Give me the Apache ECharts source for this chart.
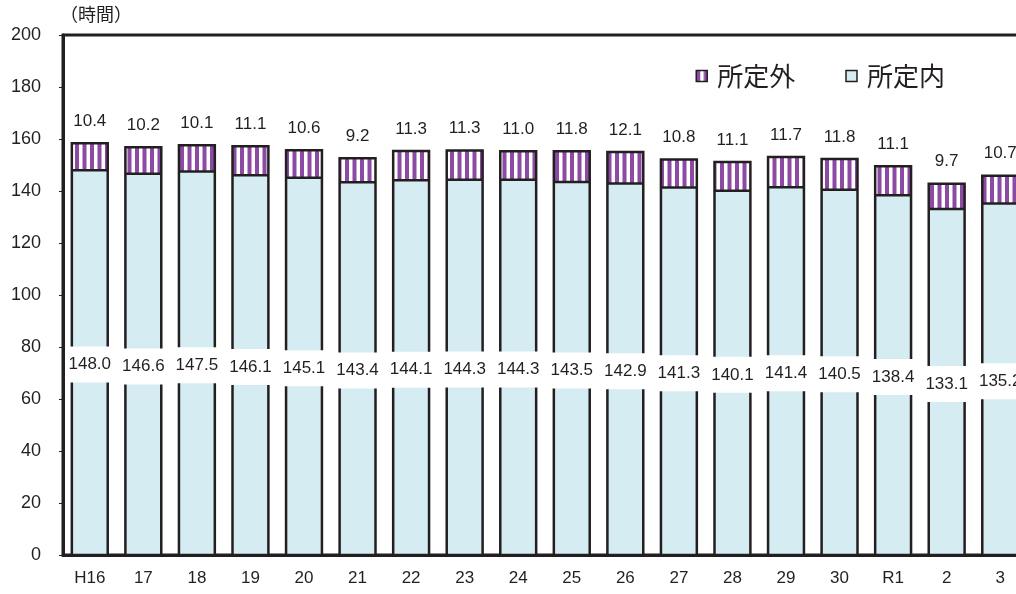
<!DOCTYPE html>
<html>
<head>
<meta charset="utf-8">
<script src="https://cdn.jsdelivr.net/npm/echarts@6/dist/echarts.min.js"></script>
<style>
  html, body { margin: 0; padding: 0; background: #fff; }
  #chart { width: 1016px; height: 594px; }
</style>
</head>
<body>
<div id="chart"></div>
<script>
// 年度別 月間労働時間（所定内・所定外）
const categories = ['H16', '17', '18', '19', '20', '21', '22', '23', '24', '25', '26', '27', '28', '29', '30', 'R1', '2', '3'];
const scheduledHours = [148.0, 146.6, 147.5, 146.1, 145.1, 143.4, 144.1, 144.3, 144.3, 143.5, 142.9, 141.3, 140.1, 141.4, 140.5, 138.4, 133.1, 135.2];
const overtimeHours = [10.4, 10.2, 10.1, 11.1, 10.6, 9.2, 11.3, 11.3, 11.0, 11.8, 12.1, 10.8, 11.1, 11.7, 11.8, 11.1, 9.7, 10.7];
const yTicks = [0, 20, 40, 60, 80, 100, 120, 140, 160, 180, 200];

const LINE = '#231f20';
const TEXT = '#231f20';
const NUM_FONT = '"Liberation Sans", Arial, sans-serif';
const JP_FONT = '"Noto Sans CJK JP", sans-serif';
const BAR_RATIO = 0.67;

// vertical purple/white stripes for the overtime segment
const stripe = document.createElement('canvas');
stripe.width = 15;
stripe.height = 4;
const sctx = stripe.getContext('2d');
sctx.fillStyle = '#ffffff';
sctx.fillRect(0, 0, 15, 4);
sctx.fillStyle = '#8d4aa5';
sctx.fillRect(0, 0, 4, 4);
sctx.fillRect(7.5, 0, 4, 4);

// per-year rows for the outline/label layer: [index, scheduled, total, overtime]
const outlineRows = categories.map((c, i) => [i, scheduledHours[i], scheduledHours[i] + overtimeHours[i], overtimeHours[i]]);

function renderOutline(params, api) {
  const i = api.value(0);
  const base = api.coord([i, 0]);
  const mid = api.coord([i, api.value(1)]);
  const top = api.coord([i, api.value(2)]);
  const w = api.size([1, 0])[0] * BAR_RATIO;
  const left = base[0] - w / 2;
  return {
    type: 'group',
    children: [
      {
        type: 'rect',
        shape: { x: left, y: top[1], width: w, height: base[1] - top[1] },
        style: { fill: 'none', stroke: LINE, lineWidth: 2.5 },
        z2: 1
      },
      {
        type: 'line',
        shape: { x1: left, y1: mid[1], x2: left + w, y2: mid[1] },
        style: { stroke: LINE, lineWidth: 2.5 },
        z2: 1
      },
      {
        type: 'text',
        x: base[0],
        y: (base[1] + mid[1]) / 2 + 2,
        style: {
          text: api.value(1).toFixed(1),
          fill: TEXT,
          font: '17px ' + NUM_FONT,
          align: 'center',
          verticalAlign: 'middle',
          backgroundColor: '#ffffff',
          padding: [10, 3, 9, 3]
        },
        z2: 10
      },
      {
        type: 'text',
        x: base[0],
        y: top[1] - 22,
        style: {
          text: api.value(3).toFixed(1),
          fill: TEXT,
          font: '17px ' + NUM_FONT,
          align: 'center',
          verticalAlign: 'middle'
        },
        z2: 10
      }
    ]
  };
}

const chart = echarts.init(document.getElementById('chart'), null, { renderer: 'canvas' });

chart.setOption({
  animation: false,
  backgroundColor: '#ffffff',
  grid: {
    left: 63, top: 35, width: 964, height: 520,
    outerBoundsMode: 'none',
    containLabel: false,
    show: true, borderColor: LINE, borderWidth: 3, backgroundColor: 'transparent'
  },
  graphic: [
    {
      type: 'text',
      left: 60,
      top: 5,
      style: { text: '（時間）', fill: TEXT, font: '18px ' + JP_FONT }
    }
  ],
  legend: {
    right: 66, top: 58,
    icon: 'rect',
    itemGap: 50, itemWidth: 11, itemHeight: 11,
    textStyle: { fontSize: 26, color: TEXT, fontFamily: JP_FONT, padding: [0, 0, 0, 5] },
    data: [
      { name: '所定外', itemStyle: { borderColor: LINE, borderWidth: 1.5 } },
      { name: '所定内', itemStyle: { borderColor: LINE, borderWidth: 1.5 } }
    ]
  },
  xAxis: {
    type: 'category',
    data: categories,
    axisLine: { lineStyle: { color: LINE, width: 3 } },
    axisTick: { show: false },
    axisLabel: { color: TEXT, fontSize: 17, margin: 15, fontFamily: NUM_FONT }
  },
  yAxis: {
    type: 'value',
    min: 0, max: 200, interval: 20,
    axisLine: { show: true, lineStyle: { color: LINE, width: 3 } },
    axisTick: { show: true, length: 4, lineStyle: { color: LINE, width: 1 } },
    splitLine: { show: false },
    axisLabel: {
      color: TEXT, fontSize: 18, margin: 22, fontFamily: NUM_FONT,
      formatter: v => (yTicks.includes(v) ? String(v) : '')
    }
  },
  series: [
    {
      name: '所定内',
      type: 'bar',
      stack: 'total',
      barWidth: (BAR_RATIO * 100) + '%',
      data: scheduledHours,
      itemStyle: { color: '#d4ecf2' },
      z: 2
    },
    {
      name: '所定外',
      type: 'bar',
      stack: 'total',
      barWidth: (BAR_RATIO * 100) + '%',
      data: overtimeHours,
      itemStyle: { color: { image: stripe, repeat: 'repeat' } },
      z: 2
    },
    {
      name: 'outline',
      type: 'custom',
      data: outlineRows,
      encode: { x: 0, y: [1, 2] },
      renderItem: renderOutline,
      silent: true,
      z: 3
    }
  ]
});
</script>
</body>
</html>
